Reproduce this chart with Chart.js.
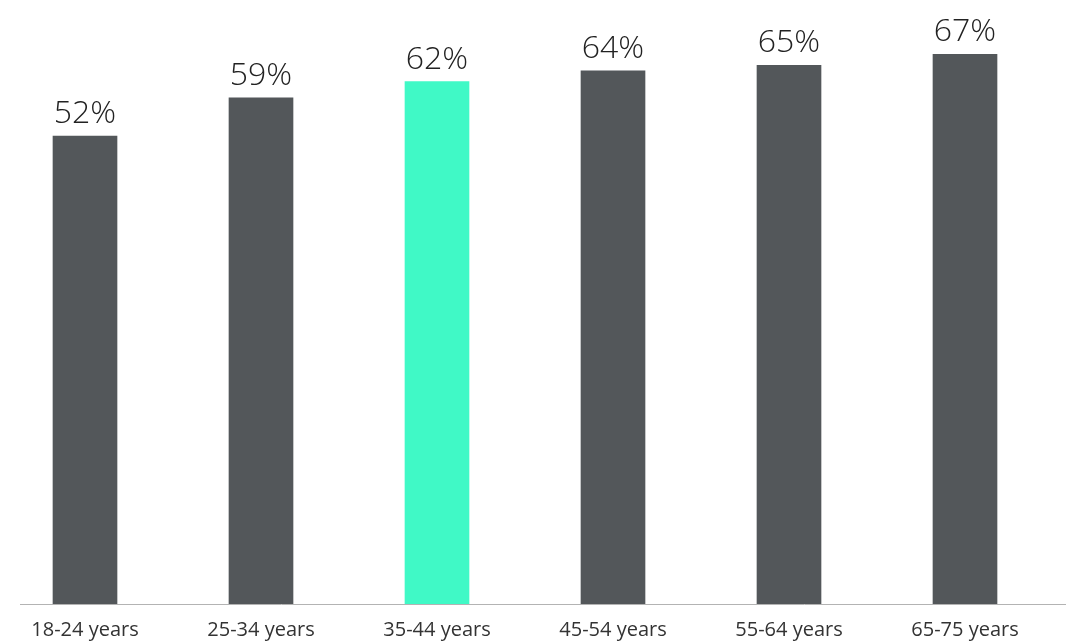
<!DOCTYPE html>
<html>
<head>
<meta charset="utf-8">
<script src="https://cdn.jsdelivr.net/npm/chart.js@4/dist/chart.umd.min.js"></script>
<style>
    html, body { margin: 0; padding: 0; background: #fff; overflow: hidden; }
    #wrap { position: absolute; left: -3px; top: 0; width: 1069px; height: 642px; }
</style>
</head>
<body>
<div id="wrap"><canvas id="chart"></canvas></div>
<script>
const categories = ['18-24 years', '25-34 years', '35-44 years', '45-54 years', '55-64 years', '65-75 years'];
const shares = [52, 59, 62, 64, 65, 67];
const highlight = '35-44 years';

const barGrey = '#53575a';
const barGreen = '#40f9c6';
const axisMin = -34, axisMax = 77;

// value labels above the bars
const valueLabels = {
    id: 'valueLabels',
    afterDatasetsDraw(chart) {
        let ctx = chart.ctx;
        let meta = chart.getDatasetMeta(0);
        ctx.save();
        ctx.font = '300 32px "Open Sans", sans-serif';
        ctx.fillStyle = '#222';
        ctx.textAlign = 'center';
        ctx.textBaseline = 'alphabetic';
        meta.data.forEach(function (bar, i) {
            ctx.fillText(shares[i] + '%', bar.x, bar.y - 13);
        });
        ctx.restore();
    }
};

// baseline rule, runs past the plot on the right
const baseLine = {
    id: 'baseLine',
    afterDatasetsDraw(chart) {
        let ctx = chart.ctx;
        let y = Math.round(chart.scales.y.getPixelForValue(axisMin)) + 0.5;
        ctx.save();
        ctx.strokeStyle = '#b3b3b3';
        ctx.lineWidth = 1;
        ctx.beginPath();
        ctx.moveTo(23, y);
        ctx.lineTo(chart.width, y);
        ctx.stroke();
        ctx.restore();
    }
};

let ctx = document.getElementById('chart').getContext('2d');
new Chart(ctx, {
    type: 'bar',
    data: {
        labels: categories,
        datasets: [{
            data: shares,
            base: axisMin,
            backgroundColor: categories.map(c => c === highlight ? barGreen : barGrey),
            barThickness: 64
        }]
    },
    options: {
        responsive: true,
        maintainAspectRatio: false,
        animation: false,
        layout: { padding: { left: 0, right: 13, top: 0, bottom: 0 } },
        plugins: {
            legend: { display: false },
            tooltip: { enabled: false }
        },
        scales: {
            x: {
                grid: { display: false, drawTicks: false },
                border: { display: false },
                ticks: {
                    color: '#333',
                    padding: 14,
                    maxRotation: 0,
                    font: { family: '"Open Sans", sans-serif', size: 20 }
                },
                afterFit(scale) { scale.height = 38; }
            },
            y: {
                display: false,
                min: axisMin,
                max: axisMax
            }
        }
    },
    plugins: [valueLabels, baseLine]
});
</script>
</body>
</html>
